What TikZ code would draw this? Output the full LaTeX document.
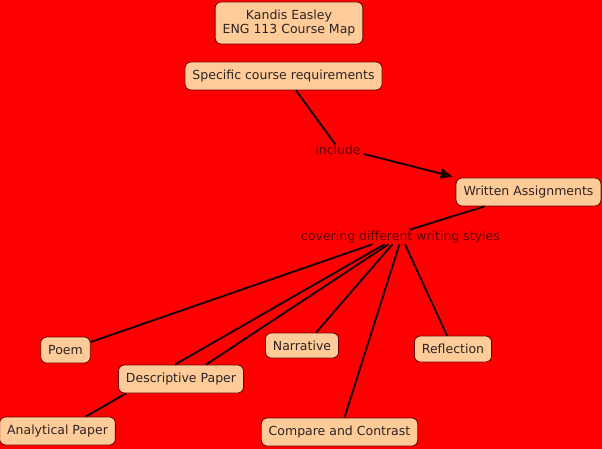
\documentclass[tikz,border=0pt]{standalone}
\usepackage{fontspec}
\setmainfont{DejaVu Sans}
\usetikzlibrary{arrows.meta,calc}
\definecolor{bgred}{RGB}{255,0,0}
\definecolor{peach}{RGB}{255,204,153}
\definecolor{boxborder}{RGB}{110,0,0}
\definecolor{boxtext}{RGB}{45,35,35}
\definecolor{labeltext}{RGB}{100,0,0}
\definecolor{linkcol}{RGB}{25,0,0}
\tikzset{
  concept/.style={draw=boxborder, line width=0.8pt, fill=peach, rounded corners=6pt,
    text=boxtext, font=\fontsize{12.5}{14}\selectfont, inner xsep=7.5pt, inner ysep=0pt,
    minimum height=27pt, align=center},
  linklabel/.style={text=labeltext, font=\fontsize{12.5}{14}\selectfont, inner sep=1pt},
  link/.style={draw=linkcol, line width=1.9pt},
}
\begin{document}
\begin{tikzpicture}[x=1pt,y=-1pt]
\fill[bgred] (0,0) rectangle (602,449);
\useasboundingbox (0,0) rectangle (602,449);

\node[concept, minimum height=42pt] (kandis) at (289,23) {Kandis Easley\\ENG 113 Course Map};
\node[concept, minimum height=28pt] (spec) at (283.5,76) {Specific course requirements};
\node[linklabel] (inc) at (338,150) {include};
\node[concept, minimum height=28pt] (wa) at (528.5,192) {Written Assignments};
\node[linklabel] (cov) at (400.5,237) {covering different writing styles};
\node[concept, minimum height=26pt] (poem) at (65.5,350) {Poem};
\node[concept, minimum height=28pt] (desc) at (181,379) {Descriptive Paper};
\node[concept, minimum height=28pt] (anal) at (57.5,431) {Analytical Paper};
\node[concept, minimum height=25pt] (narr) at (302,345.5) {Narrative};
\node[concept, minimum height=26pt] (refl) at (453,349) {Reflection};
\node[concept, minimum height=28pt] (comp) at (339.5,432) {Compare and Contrast};

\draw[link] ($(spec.south)+(12.5,0)$) -- ($(inc.north)+(-3,0)$);
\draw[link, -{Triangle[length=12pt,width=10pt]}] ($(inc.east)+(2,4)$) -- ($(wa.north west)+(-3,-1)$);
\draw[link] ($(wa.south)+(-44,0)$) -- ($(cov.north)+(9,0)$);

\draw[link] ($(cov.south)+(-28,0)$) -- ($(poem.east)+(0,-8)$);
\draw[link] ($(cov.south)+(-16,0)$) -- ($(desc.north)+(-6,0)$);
\draw[link] ($(cov.south)+(-12,0)$) -- ($(desc.north)+(25,0)$);
\draw[link] ($(cov.south)+(-8,0)$) -- ($(narr.north)+(14,0)$);
\draw[link] ($(cov.south)+(-1,0)$) -- ($(comp.north)+(5,0)$);
\draw[link] ($(cov.south)+(4.5,0)$) -- ($(refl.north)+(-6,0)$);
\draw[link] ($(desc.south west)+(8,0)$) -- ($(anal.north east)+(-30,0)$);
\end{tikzpicture}
\end{document}
